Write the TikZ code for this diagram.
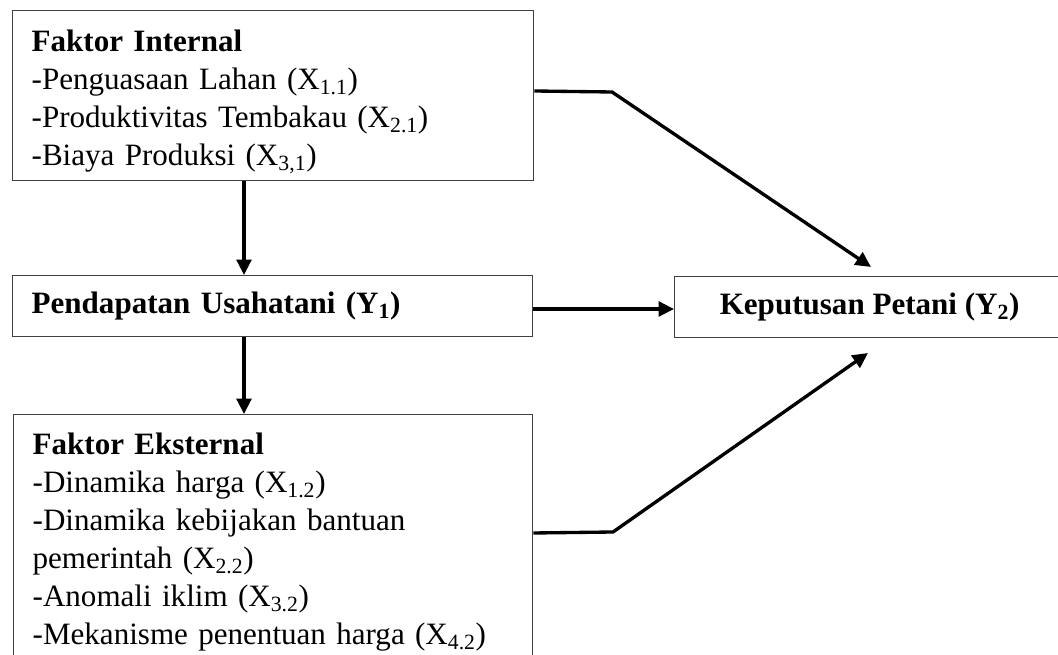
\documentclass[tikz,border=0pt]{standalone}
\usepackage{fontspec}
\setmainfont{Liberation Serif}
\usetikzlibrary{arrows.meta}
\begin{document}
\begin{tikzpicture}[x=0.75pt,y=-0.75pt,
  box/.style={draw=black!75, line width=1pt, inner ysep=0pt, font=\fontsize{23.3}{28.5}\selectfont},
  conn/.style={line width=2.5pt, line join=miter},
  arr/.style={conn, -{Triangle[length=11.5pt,width=11pt]}}]
\clip (0,0) rectangle (1058,655);
\node[box, anchor=north west, minimum width=390.75pt, minimum height=127.5pt, text width=362.25pt, inner xsep=14.25pt, align=left] (int) at (12,10)
  {\rule{0pt}{25pt}\textbf{Faktor Internal}\\-Penguasaan Lahan (X\textsubscript{1.1})\\-Produktivitas Tembakau (X\textsubscript{2.1})\\-Biaya Produksi (X\textsubscript{3,1})};
\node[box, anchor=north west, minimum width=390pt, minimum height=45.75pt, text width=361.5pt, inner xsep=14.25pt, align=left] (y1) at (12,275)
  {\textbf{Pendapatan Usahatani (Y\textsubscript{1})}};
\node[box, anchor=north west, minimum width=292.5pt, minimum height=45.75pt, align=center] (y2) at (674,276)
  {\textbf{Keputusan Petani (Y\textsubscript{2})}};
\node[box, anchor=north west, minimum width=389.25pt, minimum height=189pt, text width=360.75pt, inner xsep=14.25pt, align=left] (ext) at (13,414)
  {\rule{0pt}{19pt}\textbf{Faktor Eksternal}\\-Dinamika harga (X\textsubscript{1.2})\\-Dinamika kebijakan bantuan\\pemerintah (X\textsubscript{2.2})\\-Anomali iklim (X\textsubscript{3.2})\\-Mekanisme penentuan harga (X\textsubscript{4.2})};
\coordinate (ax) at (244,0);
\coordinate (ay) at (0,309);
\coordinate (c1) at (0,91);
\coordinate (b1) at (612,92);
\coordinate (t1) at (871,267);
\coordinate (c2) at (0,533);
\coordinate (b2) at (613,532);
\coordinate (t2) at (868,353);
\draw[arr] (int.south -| ax) -- (y1.north -| ax);
\draw[arr] (y1.south -| ax) -- (ext.north -| ax);
\draw[arr] (y1.east |- ay) -- (y2.west |- ay);
\draw[arr] (int.east |- c1) -- (b1) -- (t1);
\draw[arr] (ext.east |- c2) -- (b2) -- (t2);
\end{tikzpicture}
\end{document}
